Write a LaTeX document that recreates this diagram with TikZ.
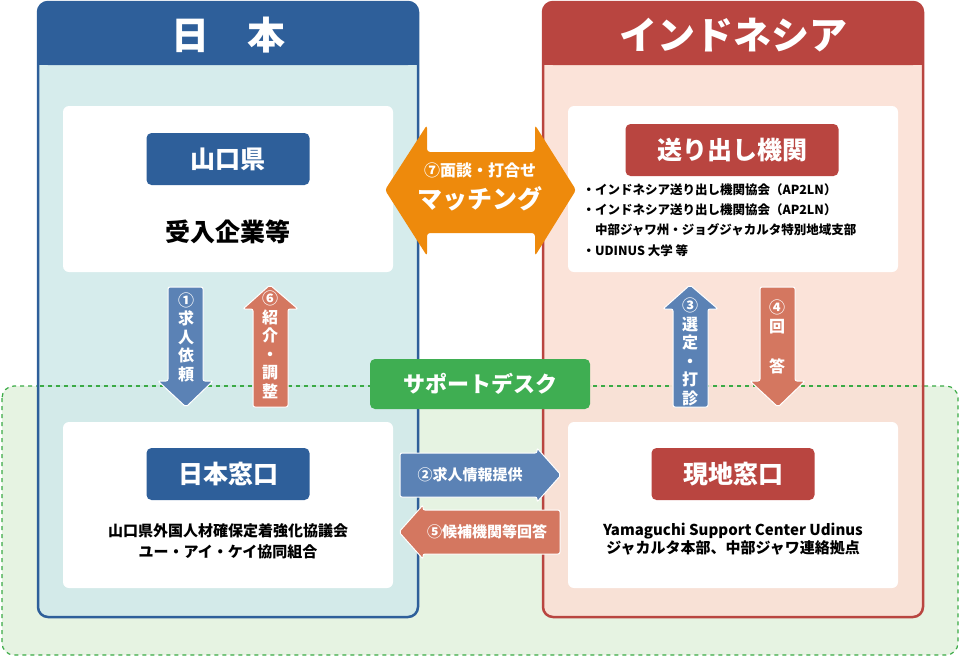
\documentclass[tikz,border=0pt]{standalone}
\usepackage{fontspec}
\setmainfont{Noto Sans CJK JP}
\definecolor{jblue}{HTML}{2E5F9A}
\definecolor{jbody}{HTML}{D2EAEA}
\definecolor{ired}{HTML}{B94540}
\definecolor{ibody}{HTML}{FBE0D5}
\definecolor{gfill}{HTML}{E6F3E2}
\definecolor{gline}{HTML}{3AAA45}
\definecolor{gbtn}{HTML}{3FAE52}
\definecolor{aorange}{HTML}{EE8A0C}
\definecolor{ablue}{HTML}{5B82B5}
\definecolor{asalmon}{HTML}{D47760}
\begin{document}
\begin{tikzpicture}[x=1pt,y=-1pt,font=\bfseries,
  wbox/.style={fill=white,rounded corners=6pt},
  lbl/.style={rounded corners=5pt,text=white,font=\bfseries\fontsize{25}{28}\selectfont,minimum height=52pt,inner sep=0pt},
  arr/.style={rounded corners=2pt,draw=white,line width=1pt},
  atxt/.style={text=white,font=\bfseries\fontsize{14}{16}\selectfont,align=center,inner sep=0pt},
  body/.style={font=\bfseries\fontsize{15}{21}\selectfont,align=center}]
\useasboundingbox (0,0) rectangle (961,657);
% support desk region
\draw[gline,fill=gfill,line width=1.2pt,dash pattern=on 4pt off 4pt,rounded corners=12pt] (2,386) rectangle (958,655);
% left panel
\path[fill=jbody,fill opacity=0.9,draw=jblue,line width=2.5pt,rounded corners=10pt] (38,2) rectangle (418,617);
\path[fill=jblue,rounded corners=10pt] (38,2) -- (418,2) -- (418,65) -- (38,65) -- cycle;
\fill[jblue] (38,40) rectangle (418,65);
\node[text=white,font=\bfseries\fontsize{38}{42}\selectfont] (jp) at (228,35) {日　本};
% right panel
\path[fill=ibody,fill opacity=0.9,draw=ired,line width=2.5pt,rounded corners=10pt] (543,2) rectangle (923,617);
\path[fill=ired,rounded corners=10pt] (543,2) -- (923,2) -- (923,65) -- (543,65) -- cycle;
\fill[ired] (543,40) rectangle (923,65);
\node[text=white,font=\bfseries\fontsize{38}{42}\selectfont] (id) at (733,35) {インドネシア};
% dashed line over panels
\draw[gline,line width=1.2pt,dash pattern=on 4pt off 4pt] (40,386) -- (416,386) (545,386) -- (921,386);
% white boxes
\path[wbox] (63,106) rectangle (393,272);
\path[wbox] (63,422) rectangle (393,588);
\path[wbox] (568,106) rectangle (898,272);
\path[wbox] (568,422) rectangle (898,588);
% labels
\node[lbl,fill=jblue,minimum width=163pt] (yg) at (228,159) {山口県};
\node[font=\bfseries\fontsize{25}{28}\selectfont] (uke) at (228,232) {受入企業等};
\node[lbl,fill=jblue,minimum width=163pt] (jw) at (228,474) {日本窓口};
\node[body] (jwt) at (228,541) {山口県外国人材確保定着強化協議会\\ユー・アイ・ケイ協同組合};
\node[lbl,fill=ired,minimum width=213pt] (ok) at (732,150) {送り出し機関};
\node[font=\bfseries\fontsize{12.5}{20.3}\selectfont,align=left,anchor=north west] (okt) at (579,180)
 {・インドネシア送り出し機関協会（AP2LN）\\・インドネシア送り出し機関協会（AP2LN）\\\hspace{1em}中部ジャワ州・ジョグジャカルタ特別地域支部\\・UDINUS 大学 等};
\node[lbl,fill=ired,minimum width=163pt] (gc) at (733,474) {現地窓口};
\node[body] (gct) at (733,539) {Yamaguchi Support Center Udinus\\[-3pt]ジャカルタ本部、中部ジャワ連絡拠点};
% orange double arrow
\path[fill=aorange,rounded corners=3pt] (385,190) -- (427,125) -- (427,152) -- (535,152) -- (535,125) -- (576,190) -- (535,256) -- (535,233) -- (427,233) -- (427,256) -- cycle;
\node[atxt,font=\bfseries\fontsize{16}{18}\selectfont] (m1) at (480,170) {⑦面談・打合せ};
\node[atxt,font=\bfseries\fontsize{25}{28}\selectfont] (m2) at (480,199) {マッチング};
% vertical arrows
\path[arr,fill=ablue] (168,287) -- (203,287) -- (203,381) -- (213,381) -- (186,407) -- (158,381) -- (168,381) -- cycle;
\node[atxt,font=\bfseries\fontsize{16}{18.5}\selectfont] (a1) at (186,337) {①\\求\\人\\依\\頼};
\path[arr,fill=asalmon] (253,407) -- (288,407) -- (288,309) -- (298,309) -- (270,285) -- (243,309) -- (253,309) -- cycle;
\node[atxt,font=\bfseries\fontsize{16}{18.5}\selectfont] (a6) at (270,345) {⑥\\紹\\介\\・\\調\\整};
\path[arr,fill=ablue] (673,407) -- (708,407) -- (708,309) -- (718,309) -- (690,285) -- (663,309) -- (673,309) -- cycle;
\node[atxt,font=\bfseries\fontsize{16}{18.5}\selectfont] (a3) at (690,352) {③\\選\\定\\・\\打\\診};
\path[arr,fill=asalmon] (760,287) -- (795,287) -- (795,381) -- (805,381) -- (778,407) -- (750,381) -- (760,381) -- cycle;
\node[atxt,font=\bfseries\fontsize{16}{18.5}\selectfont] (a4) at (777,337) {④\\回\\[22pt]答};
% support desk button
\node[fill=gbtn,rounded corners=5pt,text=white,minimum width=220pt,minimum height=50pt,font=\bfseries\fontsize{22}{24}\selectfont] (sd) at (480,384) {サポートデスク};
% horizontal arrows
\path[arr,fill=ablue] (400,453) -- (537,453) -- (537,448) -- (561,475) -- (537,502) -- (537,497) -- (400,497) -- cycle;
\node[atxt,font=\bfseries\fontsize{15}{17}\selectfont] (a2) at (470,475) {②求人情報提供};
\path[arr,fill=asalmon] (560,510) -- (423,510) -- (423,505) -- (399,532) -- (423,559) -- (423,554) -- (560,554) -- cycle;
\node[atxt,font=\bfseries\fontsize{15}{17}\selectfont] (a5) at (487,532) {⑤候補機関等回答};
\end{tikzpicture}
\end{document}
